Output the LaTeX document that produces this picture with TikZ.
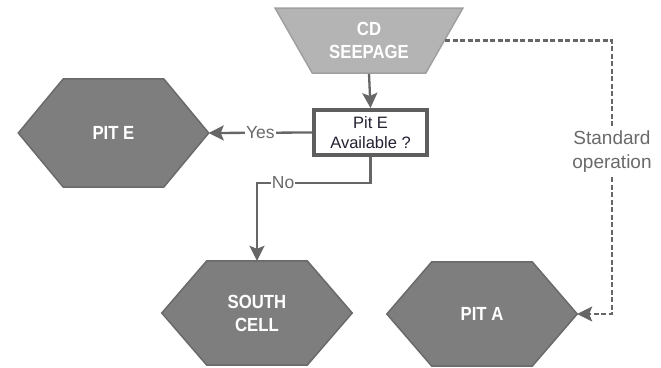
\documentclass[tikz,border=0pt]{standalone}
\usepackage{fontspec}
\setmainfont{Liberation Sans}
\newfontfamily\hexfont[FakeStretch=0.88]{Liberation Sans}
\usetikzlibrary{shapes.geometric,arrows.meta,backgrounds}
\definecolor{hexgray}{HTML}{7E7E7E}
\definecolor{hexedge}{HTML}{6A6A6A}
\definecolor{trapgray}{HTML}{B4B4B4}
\definecolor{trapedge}{HTML}{A0A0A0}
\definecolor{linegray}{HTML}{666666}
\definecolor{boxedge}{HTML}{5E5E5E}
\definecolor{lblgray}{HTML}{6A6A6A}
\definecolor{boxtext}{HTML}{222233}
\tikzset{
  hexnode/.style={rectangle, minimum width=190pt, minimum height=104pt, inner sep=0pt,
    align=center, text=white, font=\hexfont\bfseries\fontsize{19pt}{23pt}\selectfont},
  hexshape/.style={fill=hexgray, draw=hexedge, line width=1.5pt, line join=miter},
  trapnode/.style={trapezium, trapezium left angle=123.2, trapezium right angle=123.2,
    trapezium stretches=true, minimum width=188pt, minimum height=65pt,
    fill=trapgray, draw=trapedge, line width=1.5pt, align=center, text=white,
    font=\hexfont\bfseries\fontsize{19pt}{23pt}\selectfont},
  decbox/.style={rectangle, draw=boxedge, line width=4pt, fill=white,
    minimum width=113pt, minimum height=45pt, inner sep=0pt, align=center,
    text=boxtext, font=\fontsize{16.5pt}{20pt}\selectfont},
  lbl/.style={fill=white, inner xsep=1pt, inner ysep=1pt, text=lblgray,
    font=\fontsize{17.5pt}{20pt}\selectfont},
  conn/.style={draw=linegray, line width=2.3pt,
    -{Stealth[length=15pt,width=15pt,inset=3pt]}},
  dashconn/.style={draw=linegray, line width=2.1pt, dash pattern=on 5pt off 2.5pt},
  dashtip/.style={-{Stealth[length=15pt,width=15pt,inset=3pt]}}
}
\newcommand\drawhex[1]{%
  \filldraw[hexshape] (#1.west) -- ([xshift=45pt]#1.north west)
    -- ([xshift=-45pt]#1.north east) -- (#1.east)
    -- ([xshift=-45pt]#1.south east) -- ([xshift=45pt]#1.south west) -- cycle;}
\begin{document}
\begin{tikzpicture}[x=1pt,y=-1pt]
  \useasboundingbox (0,0) rectangle (661,367);
  % nodes
  \node[trapnode] (cd) at (369,40.5) {CD\\SEEPAGE};
  \node[decbox] (box) at (370.5,132.5) {Pit E\\Available ?};
  \node[hexnode, minimum height=108pt] (pite) at (113.5,133) {PIT E};
  \node[hexnode] (sc) at (257,313) {SOUTH\\CELL};
  \node[hexnode] (pita) at (482,314) {PIT A};
  \node[text=lblgray, align=center, inner sep=0pt, minimum height=51pt,
    font=\fontsize{19pt}{24pt}\selectfont] (std) at (612,151.5) {Standard\\operation};
  \coordinate (nocorner) at (257,183);
  % background shapes
  \begin{scope}[on background layer]
    \fill[white] (0,0) rectangle (661,367);
    \drawhex{pite}
    \drawhex{sc}
    \drawhex{pita}
  \end{scope}
  % connectors
  \draw[conn] (cd.south) -- (box.north);
  \draw[conn] (box.west) -- node[lbl, midway] {Yes} (pite.east);
  \draw[conn] (box.south) |- node[lbl, pos=0.885] {No} (nocorner) -- (sc.north);
  \draw[dashconn] (cd.east) -| (std.north);
  \draw[dashconn, dashtip] (std.south) |- (pita.east);
\end{tikzpicture}
\end{document}
